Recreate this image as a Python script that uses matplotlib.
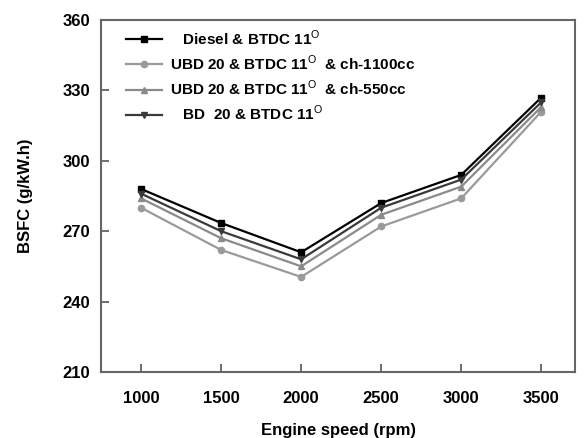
import numpy as np
import matplotlib
matplotlib.use('Agg')
import matplotlib.pyplot as plt

plt.rcParams['font.family'] = ['Liberation Sans', 'DejaVu Sans']
plt.rcParams['mathtext.fontset'] = 'custom'
plt.rcParams['mathtext.rm'] = 'Liberation Sans'

speed = [1000, 1500, 2000, 2500, 3000, 3500]
diesel = [288, 273.5, 261, 282, 294, 327]
ubd_1100 = [280, 262, 250.5, 272, 284, 321]
ubd_550 = [284, 267, 255, 277, 289, 323]
bd_20 = [286, 270, 258, 280, 292, 325]

labels = [
    r'   Diesel & BTDC 11$^{\rm O}$',
    r'UBD 20 & BTDC 11$^{\rm O}$  & ch-1100cc',
    r'UBD 20 & BTDC 11$^{\rm O}$  & ch-550cc',
    r'   BD  20 & BTDC 11$^{\rm O}$',
]

fig = plt.figure(figsize=(5.84, 4.38), dpi=100)
ax = fig.add_axes([0.173, 0.151, 0.812, 0.803])

# Plot the four series
ax.plot(speed, diesel, '-s', color='black', lw=1.6, ms=4.5, label=labels[0])
ax.plot(speed, ubd_1100, '-o', color='#9a9a9a', lw=1.6, ms=4.5, label=labels[1])
ax.plot(speed, ubd_550, '-^', color='#8a8a8a', lw=1.6, ms=4.5, label=labels[2])
ax.plot(speed, bd_20, '-v', color='#3a3a3a', lw=1.6, ms=4.5, label=labels[3])

ax.set_xlim(750, 3712)
ax.set_ylim(210, 360)
ax.set_xticks(speed)
ax.set_yticks([210, 240, 270, 300, 330, 360])
ax.tick_params(direction='in', length=6, width=1.2, color='#555555', labelsize=12)
ax.tick_params(axis='x', pad=14)
ax.tick_params(axis='y', pad=8)
for lab in ax.get_xticklabels() + ax.get_yticklabels():
    lab.set_fontweight('bold')
for sp in ax.spines.values():
    sp.set_color('#666666')
    sp.set_linewidth(1.5)

ax.set_xlabel('Engine speed (rpm)', fontsize=12, fontweight='bold', labelpad=12)
ax.set_ylabel('BSFC (g/kW.h)', fontsize=12, fontweight='bold', labelpad=21)

leg = ax.legend(loc='upper left', bbox_to_anchor=(0.053, 0.977), frameon=False,
                handlelength=2.35, prop={'weight': 'bold', 'size': 11},
                labelspacing=0.39, borderaxespad=0, borderpad=0,
                handletextpad=0.5)

fig.savefig('out.png', dpi=100)
